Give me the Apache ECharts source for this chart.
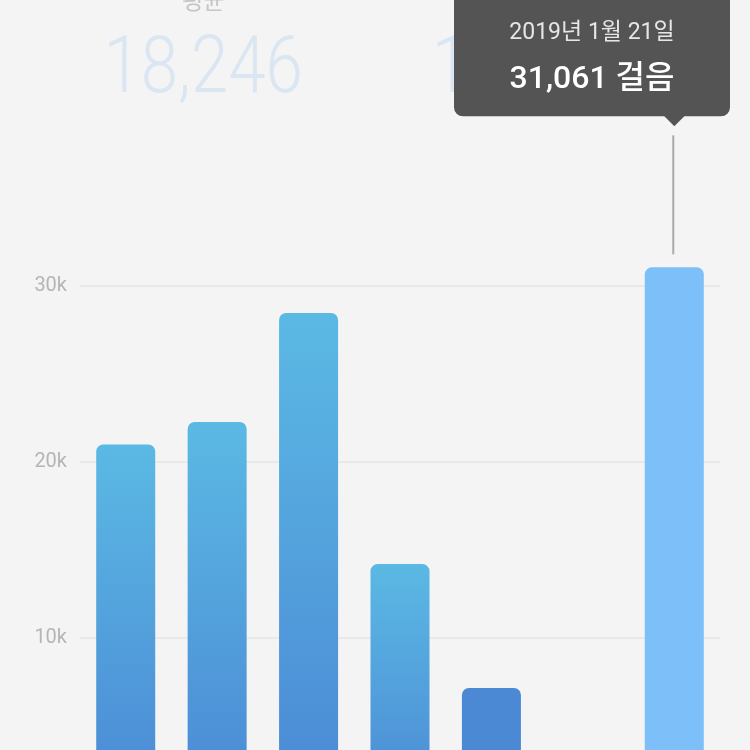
<!DOCTYPE html>
<html>
<head>
<meta charset="utf-8">
<script src="https://cdn.jsdelivr.net/npm/echarts@6/dist/echarts.min.js"></script>
<style>
html,body{margin:0;padding:0;background:#f4f4f4;overflow:hidden;width:750px;height:750px;}
#c{width:750px;height:814px;}
</style>
</head>
<body>
<div id="c"></div>
<script>
const categories = ['1월 15일','1월 16일','1월 17일','1월 18일','1월 19일','1월 20일','1월 21일'];
const steps = [21000, 22270, 28470, 14200, 7160, 0, 31061];
const yTicks = [0, 10000, 20000, 30000];
const tickLabels = ['0', '10k', '20k', '30k'];
const statLabels = ['평균', '중앙값'];
const statValues = ['18,246', '19,842'];
const selectedIndex = 6;
const tooltipDate = '2019년 1월 21일';
const tooltipUnit = '걸음';

const FONT = 'Roboto, "Noto Sans CJK KR", sans-serif';
const chart = echarts.init(document.getElementById('c'), null, {renderer: 'canvas'});

const barData = steps.map((v, i) => {
  if (i === selectedIndex) {
    return {value: v, itemStyle: {color: '#7cbff9'}};
  }
  if (v < 10000) {
    return {value: v, itemStyle: {color: '#4b89d5'}};
  }
  return v;
});

chart.setOption({
  backgroundColor: '#f4f4f4',
  animation: false,
  grid: {left: 80, right: 30, top: 286, bottom: 0, outerBoundsMode: 'none', containLabel: false},
  xAxis: {
    type: 'category',
    data: categories,
    axisLine: {show: false},
    axisTick: {show: false},
    axisLabel: {show: false}
  },
  yAxis: {
    type: 'value',
    min: yTicks[0],
    max: yTicks[yTicks.length - 1],
    interval: 10000,
    axisLine: {show: false},
    axisTick: {show: false},
    axisLabel: {
      color: '#b5b5b5',
      fontSize: 20,
      fontFamily: FONT,
      margin: 13,
      showMinLabel: false,
      formatter: v => tickLabels[yTicks.indexOf(v)]
    },
    splitLine: {lineStyle: {color: '#e6e6e6', width: 1.5}}
  },
  series: [{
    type: 'bar',
    data: barData,
    barWidth: 59,
    clip: false,
    z: 3,
    itemStyle: {
      borderRadius: [7, 7, 0, 0],
      color: new echarts.graphic.LinearGradient(0, 0, 0, 1, [
        {offset: 0, color: '#5bb9e4'},
        {offset: 1, color: '#4a87d4'}
      ])
    }
  }]
});

// annotations positioned through the chart's own scales
const statX = [chart.convertToPixel({xAxisIndex: 0}, categories[1]) - 14,
               chart.convertToPixel({xAxisIndex: 0}, categories[4]) + 40];
const barTop = chart.convertToPixel({yAxisIndex: 0}, steps[selectedIndex]);
const barX = chart.convertToPixel({xAxisIndex: 0}, categories[selectedIndex]);
const boxW = 276, boxH = 126;
const boxRight = 730;
const boxX = Math.min(barX - boxW / 2, boxRight - boxW);
const boxBottom = barTop - 151;
const boxY = boxBottom - boxH;

const graphics = [];
statLabels.forEach((lab, i) => {
  graphics.push({
    type: 'text', z: 1, x: statX[i], y: 15,
    style: {text: lab, x: 0, y: 0, align: 'center', verticalAlign: 'bottom',
      fill: '#c6c6c6', font: '400 23px ' + FONT}
  });
  graphics.push({
    type: 'text', z: 1, x: statX[i], y: 72, scaleX: 0.84,
    style: {text: statValues[i], x: 0, y: 0, align: 'center', verticalAlign: 'middle',
      fill: '#dbe6f3', font: '300 80px ' + FONT}
  });
});
graphics.push({
  type: 'line', z: 10,
  shape: {x1: barX - 1, y1: barTop - 13, x2: barX - 1, y2: boxBottom + 19},
  style: {stroke: '#a9a9a9', lineWidth: 2}
});
graphics.push({
  type: 'rect', z: 20,
  shape: {x: boxX, y: boxY, width: boxW, height: boxH, r: 9},
  style: {fill: '#545454'}
});
graphics.push({
  type: 'polygon', z: 20,
  shape: {points: [[barX - 11, boxBottom - 1], [barX + 11, boxBottom - 1], [barX, boxBottom + 10]]},
  style: {fill: '#545454'}
});
graphics.push({
  type: 'text', z: 21,
  style: {text: tooltipDate, x: boxX + boxW / 2, y: boxY + 43, align: 'center', verticalAlign: 'middle',
    fill: '#e6e6e6', font: '400 23px ' + FONT}
});
graphics.push({
  type: 'text', z: 21,
  style: {text: steps[selectedIndex].toLocaleString('en-US') + ' ' + tooltipUnit,
    x: boxX + boxW / 2, y: boxY + 90, align: 'center', verticalAlign: 'middle',
    fill: '#ffffff', font: '500 32px ' + FONT}
});
chart.setOption({graphic: graphics});
</script>
</body>
</html>
